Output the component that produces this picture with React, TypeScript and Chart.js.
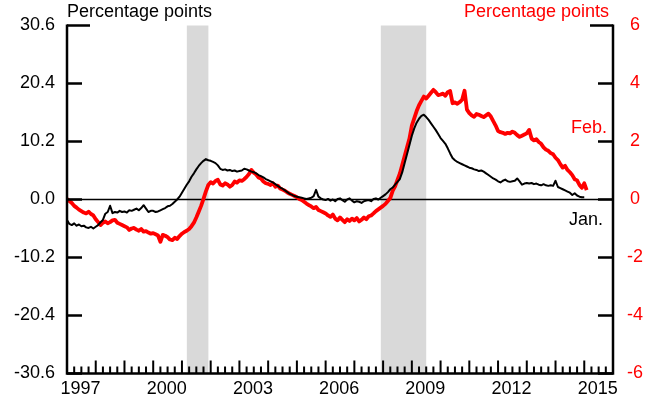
import React, { useEffect, useRef } from 'react';
import { Chart, registerables } from 'chart.js';

Chart.register(...registerables);

// ---- data ----
const START_YEAR = 1997; // monthly series start (January)
const X_MIN = 1997;
const X_MAX = 2016;
const xLabelYears = [1997, 2000, 2003, 2006, 2009, 2012, 2015];
const leftTicks = [-30.6, -20.4, -10.2, 0, 10.2, 20.4, 30.6];
const rightTicks = [-6, -4, -2, 0, 2, 4, 6];
const recessionStart = [2001.17, 2007.92];
const recessionEnd = [2001.92, 2009.5];

// Black series ("Jan."), left axis, Jan 1997 - Jan 2015
const janSeries = [
  -3.6, -4.3, -4.5, -4.2, -4.6, -4.4, -4.7, -4.6, -4.9, -5.0, -4.8, -5.1,
  -4.8, -4.5, -4.0, -3.6, -2.5, -2.2, -1.1, -2.4, -2.2, -2.3, -2.0, -2.2,
  -2.1, -2.3, -1.9, -2.0, -1.8, -1.6, -1.9, -1.5, -1.0, -1.6, -2.2, -2.0,
  -2.0, -2.2, -2.1, -1.9, -1.7, -1.5, -1.2, -1.1, -0.8, -0.4, 0.0, 0.5,
  1.2, 1.9, 2.6, 3.2, 4.0, 4.6, 5.3, 5.9, 6.4, 6.8, 7.1, 6.9,
  6.8, 6.6, 6.4, 6.0, 5.4, 5.2, 5.3, 5.1, 5.2, 5.0, 5.1, 4.9,
  5.0, 5.1, 5.4, 5.3, 5.1, 4.9, 4.8, 4.6, 4.3, 4.1, 3.9, 3.6,
  3.4, 3.2, 3.0, 2.7, 2.4, 2.1, 1.9, 1.6, 1.3, 1.0, 0.8, 0.6,
  0.5, 0.4, 0.3, 0.2, 0.1, 0.2, 0.3, 0.6, 1.7, 0.5, 0.2, 0.0,
  -0.1, 0.1, -0.2, 0.0, -0.3, 0.1, 0.2, -0.1, -0.4, 0.0, 0.2, -0.2,
  -0.5, -0.3, -0.4, -0.6, -0.3, -0.2, -0.1, -0.3, 0.1, 0.2, 0.0, 0.3,
  0.6, 0.9, 1.3, 1.8, 2.1, 2.6, 3.1, 3.6, 4.8, 6.4, 8.0, 9.6,
  11.2, 12.5, 13.5, 14.2, 14.7, 14.9, 14.5, 14.0, 13.4, 12.8, 12.2, 11.5,
  10.8, 10.3, 9.8, 9.0, 8.1, 7.3, 6.9, 6.6, 6.4, 6.2, 6.0, 5.8,
  5.6, 5.5, 5.3, 5.2, 5.0, 5.1, 4.9, 4.6, 4.3, 4.0, 3.7, 3.5,
  3.2, 3.0, 3.3, 3.5, 3.2, 3.1, 3.2, 3.3, 3.7, 3.2, 2.6, 2.8,
  2.9, 2.8, 2.9, 2.7, 2.8, 2.6, 2.5, 2.7, 2.5, 2.4, 2.5, 2.4,
  3.3, 2.2, 2.0, 1.8, 1.6, 1.4, 1.2, 0.8, 1.1, 0.7, 0.5, 0.4,
  0.4,
];

// Red series ("Feb."), right axis, Jan 1997 - Feb 2015
const febSeries = [
  0.02, -0.05, -0.12, -0.22, -0.28, -0.35, -0.40, -0.45, -0.48, -0.42, -0.50, -0.55,
  -0.68, -0.78, -0.88, -0.80, -0.76, -0.82, -0.78, -0.72, -0.70, -0.80, -0.84, -0.88,
  -0.92, -0.96, -1.05, -1.00, -0.98, -1.04, -1.08, -1.02, -1.11, -1.09, -1.14, -1.18,
  -1.16, -1.20, -1.24, -1.46, -1.22, -1.25, -1.30, -1.38, -1.40, -1.32, -1.36, -1.26,
  -1.18, -1.12, -1.08, -1.02, -0.92, -0.80, -0.62, -0.42, -0.22, 0.02, 0.28, 0.50,
  0.60, 0.55, 0.64, 0.68, 0.52, 0.48, 0.56, 0.52, 0.44, 0.50, 0.62, 0.58,
  0.66, 0.64, 0.70, 0.78, 0.88, 1.02, 0.92, 0.86, 0.76, 0.72, 0.62, 0.56,
  0.54, 0.50, 0.56, 0.44, 0.48, 0.38, 0.34, 0.30, 0.24, 0.20, 0.16, 0.12,
  0.08, 0.02, -0.02, -0.08, -0.14, -0.19, -0.24, -0.30, -0.26, -0.36, -0.40, -0.44,
  -0.48, -0.55, -0.60, -0.52, -0.66, -0.72, -0.62, -0.70, -0.78, -0.68, -0.74, -0.66,
  -0.72, -0.64, -0.76, -0.70, -0.62, -0.68, -0.58, -0.55, -0.48, -0.40, -0.34, -0.28,
  -0.22, -0.15, -0.05, 0.05, 0.30, 0.45, 0.68, 0.90, 1.20, 1.50, 1.80, 2.10,
  2.55, 2.80, 3.05, 3.25, 3.40, 3.55, 3.48, 3.58, 3.68, 3.78, 3.70, 3.60,
  3.62, 3.65, 3.58, 3.70, 3.74, 3.32, 3.35, 3.30, 3.36, 3.44, 3.75, 3.10,
  2.98, 2.90, 2.85, 2.95, 2.92, 2.88, 2.84, 2.90, 2.96, 2.86, 2.70, 2.55,
  2.36, 2.32, 2.30, 2.26, 2.30, 2.28, 2.34, 2.30, 2.22, 2.16, 2.20, 2.24,
  2.28, 2.40, 2.10, 2.04, 2.08, 1.98, 1.92, 1.80, 1.72, 1.68, 1.60, 1.56,
  1.44, 1.36, 1.22, 1.10, 1.16, 1.02, 0.94, 0.84, 0.70, 0.66, 0.50, 0.40,
  0.56, 0.32,
];

const FONT_FAMILY = '"Liberation Sans", Arial, Helvetica, sans-serif';
const FONT_SIZE = 18;
const RED = '#ff0000';
const SHADE = '#d9d9d9';

const toPoints = (vals: number[]) =>
  vals.map((v, i) => ({ x: START_YEAR + i / 12, y: v }));

const decorPlugin = {
  id: 'decor',
  beforeDatasetsDraw(chart: any) {
    const { ctx, chartArea: a, scales } = chart;
    const xs = scales.x;
    const yl = scales.y;
    ctx.save();
    ctx.fillStyle = SHADE;
    recessionStart.forEach((s, i) => {
      const x0 = xs.getPixelForValue(s);
      const x1 = xs.getPixelForValue(recessionEnd[i]);
      ctx.fillRect(x0, a.top, x1 - x0, a.bottom - a.top);
    });
    const y0 = yl.getPixelForValue(0);
    ctx.strokeStyle = '#000';
    ctx.lineWidth = 1.3;
    ctx.beginPath();
    ctx.moveTo(a.left, y0);
    ctx.lineTo(a.right, y0);
    ctx.stroke();
    ctx.restore();
  },
  afterDatasetsDraw(chart: any) {
    const { ctx, chartArea: a, scales } = chart;
    const xs = scales.x;
    const yl = scales.y;
    const yr = scales.y2;
    ctx.save();
    ctx.strokeStyle = '#000';
    ctx.lineWidth = 2.5;
    ctx.lineCap = 'butt';
    // frame: left, right, bottom
    ctx.beginPath();
    ctx.moveTo(a.left, a.top - 1);
    ctx.lineTo(a.left, a.bottom);
    ctx.lineTo(a.right, a.bottom);
    ctx.lineTo(a.right, a.top - 1);
    ctx.stroke();
    // y ticks (inward)
    ctx.beginPath();
    leftTicks.forEach((v) => {
      const y = yl.getPixelForValue(v);
      const len = v === leftTicks[leftTicks.length - 1] ? 23 : 15;
      ctx.moveTo(a.left, y);
      ctx.lineTo(a.left + len, y);
    });
    rightTicks.forEach((v) => {
      const y = yr.getPixelForValue(v);
      const len = v === rightTicks[rightTicks.length - 1] ? 23 : 15;
      ctx.moveTo(a.right, y);
      ctx.lineTo(a.right - len, y);
    });
    ctx.stroke();
    // x ticks: quarterly, taller at year boundaries
    ctx.lineWidth = 2;
    ctx.beginPath();
    const nq = (X_MAX - X_MIN) * 4;
    for (let k = 1; k < nq; k++) {
      const px = xs.getPixelForValue(X_MIN + k / 4);
      const len = k % 4 === 0 ? 13 : 7;
      ctx.moveTo(px, a.bottom);
      ctx.lineTo(px, a.bottom - len);
    }
    ctx.stroke();
    // annotations
    ctx.font = `${FONT_SIZE}px ${FONT_FAMILY}`;
    ctx.textBaseline = 'middle';
    ctx.fillStyle = '#000';
    ctx.textAlign = 'left';
    ctx.fillText('Percentage points', a.left, 12);
    ctx.fillStyle = RED;
    ctx.textAlign = 'right';
    ctx.fillText('Percentage points', a.right - 4, 12);
    ctx.fillText('Feb.', a.right - 6, 128);
    ctx.fillStyle = '#000';
    ctx.fillText('Jan.', a.right - 10, 220);
    ctx.restore();
  },
};

export default function App() {
  const ref = useRef<HTMLCanvasElement | null>(null);
  useEffect(() => {
    if (!ref.current) return;
    const chart = new Chart(ref.current, {
      type: 'line',
      data: {
        datasets: [
          {
            label: 'Jan.',
            data: toPoints(janSeries),
            borderColor: '#000',
            borderWidth: 2,
            pointRadius: 0,
            tension: 0,
            yAxisID: 'y',
            borderJoinStyle: 'round',
          },
          {
            label: 'Feb.',
            data: toPoints(febSeries),
            borderColor: RED,
            borderWidth: 3.8,
            pointRadius: 0,
            tension: 0,
            yAxisID: 'y2',
            borderJoinStyle: 'round',
          },
        ],
      },
      options: {
        responsive: false,
        animation: false,
        events: [],
        layout: { padding: { top: 25.5, left: 0, right: 0, bottom: 0 } },
        plugins: { legend: { display: false }, tooltip: { enabled: false }, title: { display: false } },
        scales: {
          x: {
            type: 'linear',
            min: X_MIN,
            max: X_MAX,
            grid: { display: false, drawTicks: false },
            border: { display: false },
            afterBuildTicks: (s: any) => {
              s.ticks = xLabelYears.map((y) => ({ value: y + 0.47 }));
            },
            afterFit: (s: any) => {
              s.height = 27.5;
            },
            ticks: {
              autoSkip: false,
              maxRotation: 0,
              padding: 5,
              color: '#000',
              font: { family: FONT_FAMILY, size: FONT_SIZE },
              callback: (v: any) => String(Math.floor(Number(v))),
            },
          },
          y: {
            type: 'linear',
            position: 'left',
            min: -30.6,
            max: 30.6,
            grid: { display: false, drawTicks: false },
            border: { display: false },
            afterBuildTicks: (s: any) => {
              s.ticks = leftTicks.map((v) => ({ value: v }));
            },
            afterFit: (s: any) => {
              s.width = 67;
            },
            ticks: {
              padding: 12,
              color: '#000',
              font: { family: FONT_FAMILY, size: FONT_SIZE },
              callback: (v: any) => Number(v).toFixed(1),
            },
          },
          y2: {
            type: 'linear',
            position: 'right',
            min: -6,
            max: 6,
            grid: { display: false, drawTicks: false },
            border: { display: false },
            afterBuildTicks: (s: any) => {
              s.ticks = rightTicks.map((v) => ({ value: v }));
            },
            afterFit: (s: any) => {
              s.width = 40;
            },
            ticks: {
              padding: 14,
              crossAlign: 'center',
              color: RED,
              font: { family: FONT_FAMILY, size: FONT_SIZE },
              callback: (v: any) => String(v),
            },
          },
        },
      },
      plugins: [decorPlugin],
    } as any);
    return () => chart.destroy();
  }, []);
  return (
    <div style={{ position: 'fixed', left: 0, top: 0, width: 653, height: 401, background: '#fff' }}>
      <canvas ref={ref} width={653} height={401} style={{ display: 'block' }} />
    </div>
  );
}
